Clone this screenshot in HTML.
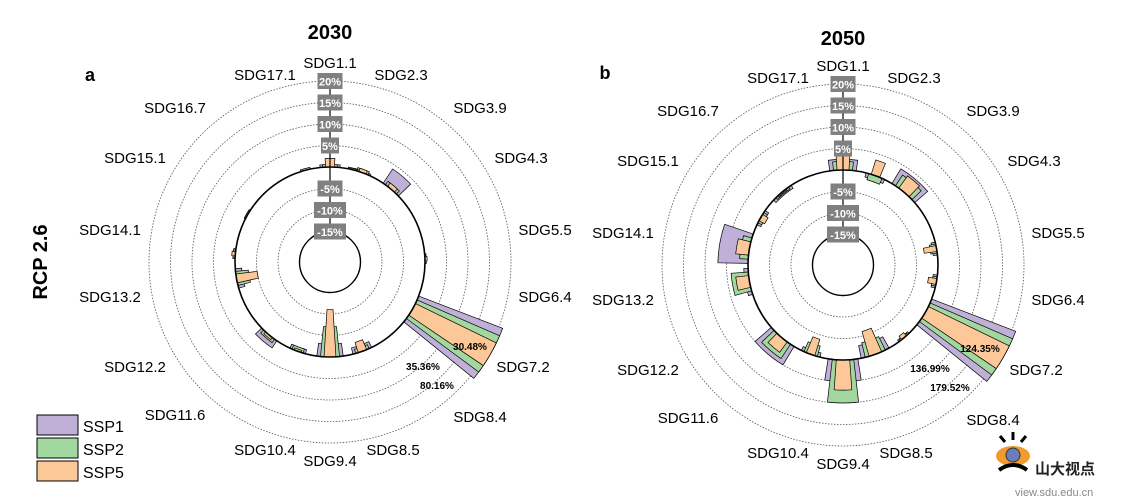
<!DOCTYPE html>
<html><head><meta charset="utf-8"><style>
body{margin:0;background:#fff;}
svg{display:block;font-family:"Liberation Sans",sans-serif;}
</style></head><body>
<svg id="s" width="1127" height="501" viewBox="0 0 1127 501" xmlns="http://www.w3.org/2000/svg">
<rect width="1127" height="501" fill="#fff"/>
<text x="330" y="39" font-size="20" font-weight="bold" text-anchor="middle">2030</text>
<text x="843" y="45" font-size="20" font-weight="bold" text-anchor="middle">2050</text>
<text x="90" y="81" font-size="18" font-weight="bold" text-anchor="middle">a</text>
<text x="605" y="79" font-size="18" font-weight="bold" text-anchor="middle">b</text>
<text transform="translate(47,262) rotate(-90)" font-size="20" font-weight="bold" text-anchor="middle">RCP 2.6</text>
<rect x="37" y="415" width="41" height="20" fill="#c0b0d8" stroke="#000"/>
<rect x="37" y="438" width="41" height="20" fill="#a2d8a0" stroke="#000"/>
<rect x="37" y="461" width="41" height="20" fill="#fdc898" stroke="#000"/>
<text x="83" y="432" font-size="16">SSP1</text>
<text x="83" y="455" font-size="16">SSP2</text>
<text x="83" y="478" font-size="16">SSP5</text>
<g id="g"></g>
<g transform="translate(995,430)">
<ellipse cx="18" cy="26" rx="17" ry="10" fill="#f29a2e"/>
<circle cx="18" cy="25" r="7" fill="#6a7fb8" stroke="#333"/>
<path d="M4 40 Q18 30 32 40" stroke="#000" stroke-width="4" fill="none"/>
<path d="M18 2 V10 M5 6 L10 12 M31 6 L26 12" stroke="#000" stroke-width="3"/>
<text x="40" y="44" font-size="15" font-weight="bold" fill="#222" font-family="'Noto Sans CJK SC',sans-serif">山大视点</text>
<text x="20" y="66" font-size="11" fill="#888">view.sdu.edu.cn</text>
</g>
</svg>
<script>
const NS="http://www.w3.org/2000/svg",G=document.getElementById('g');
function el(t,a,txt){const e=document.createElementNS(NS,t);for(const k in a)e.setAttribute(k,a[k]);if(txt!==undefined)e.textContent=txt;G.appendChild(e);return e;}
const C={p:"#c0b0d8",g:"#a2d8a0",o:"#fdc898"};
const names=["SDG1.1","SDG2.3","SDG3.9","SDG4.3","SDG5.5","SDG6.4","SDG7.2","SDG8.4","SDG8.5","SDG9.4","SDG10.4","SDG11.6","SDG12.2","SDG13.2","SDG14.1","SDG15.1","SDG16.7","SDG17.1"];
const lp=[[330,68],[401,80],[480,113],[521,163],[545,235],[545,302],[523,372],[480,422],[393,455],[330,466],[265,455],[175,420],[135,372],[110,302],[110,235],[135,163],[175,113],[265,80]];
function pt(cx,cy,r,a){const t=a*Math.PI/180;return [cx+r*Math.sin(t),cy-r*Math.cos(t)];}
function wedge(cx,cy,a,hw,r0,r1,fill){
 const a0=a-hw,a1=a+hw;const p1=pt(cx,cy,r0,a0),p2=pt(cx,cy,r1,a0),p3=pt(cx,cy,r1,a1),p4=pt(cx,cy,r0,a1);
 el('path',{d:`M${p1} L${p2} A${r1} ${r1} 0 0 1 ${p3} L${p4} A${r0} ${r0} 0 0 0 ${p1}Z`,fill:fill,stroke:"#000","stroke-width":0.7});
}
function chart(cx,cy,dx,dy,bars,ann){
 const R=v=>95+4.3*v;
 [-10,-5,5,10,15,20].forEach(v=>el('circle',{cx:cx,cy:cy,r:R(v),fill:"none",stroke:"#555","stroke-width":0.8,"stroke-dasharray":"1.5,1.5"}));
 bars.forEach(b=>{const [a,hw,vals]=b;
  [["p",hw],["g",hw*0.72],["o",hw*0.45]].forEach(([k,w],i)=>{const v=vals[i];if(!v)return;
   let r1=Math.min(R(v),185);wedge(cx,cy,a,w,R(0),r1,C[k]);});});
 el('circle',{cx:cx,cy:cy,r:R(0),fill:"none",stroke:"#000","stroke-width":1.6});
 el('circle',{cx:cx,cy:cy,r:R(-15),fill:"none",stroke:"#000","stroke-width":1.4});
 el('line',{x1:cx,y1:cy-R(-15),x2:cx,y2:cy-R(20),stroke:"#000","stroke-width":1.2});
 [[20,"20%"],[15,"15%"],[10,"10%"],[5,"5%"],[-5,"-5%"],[-10,"-10%"],[-15,"-15%"]].forEach(([v,t])=>{
  const y=cy-R(v);const w=t.length*7+4;el('rect',{x:cx-w/2,y:y-8,width:w,height:16,fill:"#808080"});
  el('text',{x:cx,y:y+4.5,"font-size":11,"font-weight":"bold",fill:"#fff","text-anchor":"middle"},t);});
 names.forEach((n,i)=>el('text',{x:lp[i][0]+dx,y:lp[i][1]+dy,"font-size":15,"text-anchor":"middle"},n));
 ann.forEach(a=>el('text',{x:a[0],y:a[1],"font-size":10,"font-weight":"bold","text-anchor":"middle"},a[2]));
}
chart(330,262,0,0,[
 [0,6,[0.6,0.6,2]],[20,5,[0.4,0.8,0.8]],[14,3,[0.4,0.3,0]],[40,6,[4,1,1]],[88,3,[0.3,0,0.5]],
 [120,9,[40,30,25]],[160,6,[-1.5,-1,-2.5]],[180,8,[-3,-7,-11]],[200,5,[-1,-1,-0.5]],
 [220,6,[2,1,0.6]],[260,6,[-1.5,-3,-5]],[275,3,[0.5,0.5,0.8]],[300,3,[0.3,0.3,0]],[345,3,[0.4,0,0]]
],[[470,350,"30.48%"],[423,370,"35.36%"],[437,389,"80.16%"]]);
chart(843,265,513,3,[
 [0,8,[2.5,2,5]],[20,6,[-1,-1.5,3.5]],[40,9,[4,3,3.5]],[80,4,[-1,-1.5,-3]],[100,4,[-1,-1,-2]],
 [120,9,[40,30,25]],[140,4,[-0.5,-0.5,-1]],[160,9,[-3,-3.5,-6]],[180,9,[5,10,7]],[200,6,[-1,-2.5,-4]],
 [220,9,[5,4,3]],[260,8,[1,4,3]],[280,9,[7,2,3]],[300,5,[-1,-1,-1.5]],[320,7,[-0.8,-0.5,-0.3]]
],[[980,352,"124.35%"],[930,372,"136.99%"],[950,391,"179.52%"]]);
</script>
</body></html>
